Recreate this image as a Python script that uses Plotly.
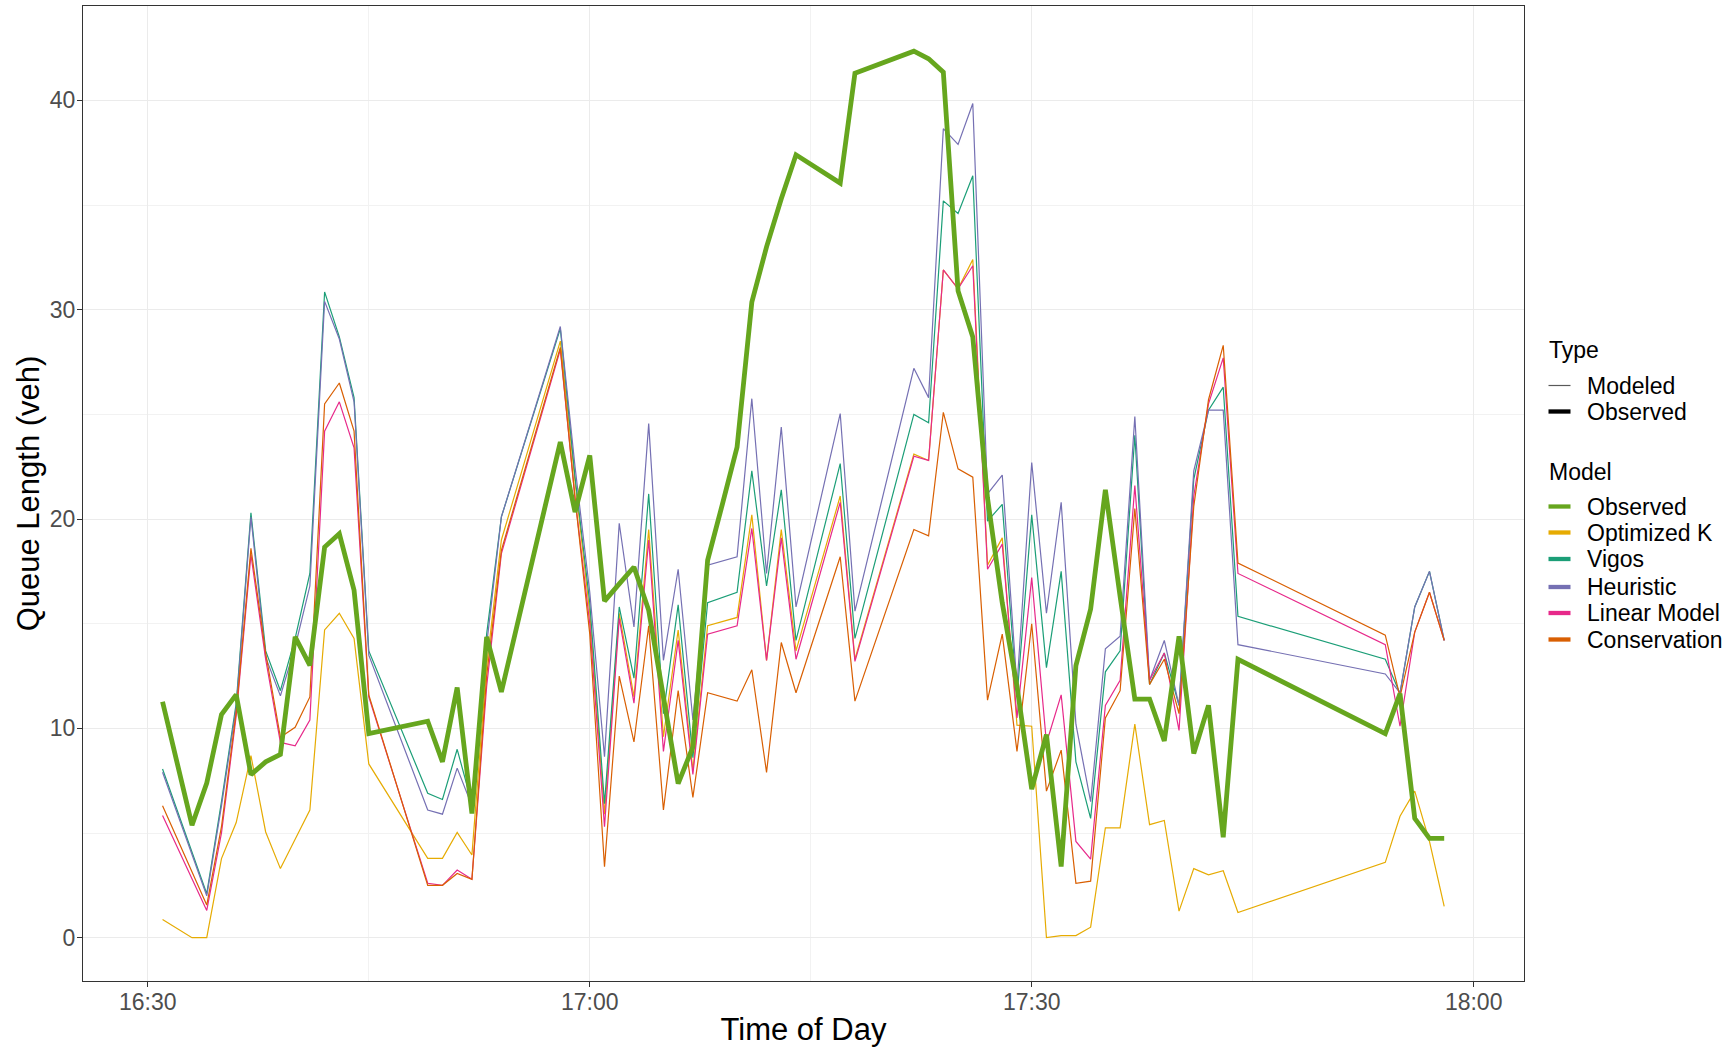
import pandas as pd
import plotly.graph_objects as go

# ---------------- data (minutes after 16:30) ----------------
model_minutes = [1, 3, 4, 5, 6, 7, 8, 9, 10, 11, 12, 13, 14, 15,
                 19, 20, 21, 22, 23, 24,
                 28, 29, 30, 31, 32, 33, 34, 35, 36, 37, 38,
                 40, 41, 42, 43, 44,
                 47, 48,
                 52, 53, 54, 55, 56, 57, 58, 59, 60, 61, 62, 63, 64, 65, 66, 67, 68, 69, 70, 71, 72, 73, 74,
                 84, 85, 86, 87, 88]

optimized_k = [0.87, 0.0, 0.0, 3.78, 5.5, 8.7, 5.05, 3.3, 4.7, 6.1, 14.7, 15.5, 14.3, 8.3,
               3.79, 3.79, 5.03, 3.95, 13.0, 19.0,
               28.5, 21.8, 15.5, 5.9, 15.5, 11.5, 19.5, 9.6, 14.7, 8.0, 14.9,
               15.3, 20.2, 13.25, 19.5, 13.7,
               21.1, 13.3,
               23.1, 22.8, 31.9, 31.0, 32.4, 17.8, 19.1, 10.15, 10.1, 0.0, 0.1, 0.1, 0.5, 5.25, 5.25, 10.2, 5.4, 5.6, 1.27, 3.3, 3.0, 3.2, 1.2,
               3.6, 5.8, 7.0, 4.6, 1.5]

vigos = [8.06, 4.1, 2.1, 6.5, 11.2, 20.3, 13.7, 11.8, 14.3, 17.4, 30.85, 28.7, 25.8, 13.7,
         6.9, 6.6, 9.0, 6.4, 14.5, 20.1,
         29.1, 22.0, 16.0, 6.4, 15.8, 12.4, 21.2, 10.7, 15.9, 8.6, 16.0,
         16.5, 22.3, 16.8, 21.4, 14.2,
         22.65, 14.3,
         25.0, 24.6, 35.2, 34.6, 36.4, 19.9, 20.7, 11.5, 20.2, 12.9, 17.5, 8.4, 5.7, 12.7, 13.7, 24.0, 12.1, 13.6, 11.1, 21.9, 25.2, 26.3, 15.35,
         13.3, 11.66, 15.8, 17.5, 14.2]

heuristic = [7.9, 4.0, 2.0, 6.3, 11.0, 20.1, 13.4, 11.55, 13.9, 16.8, 30.4, 28.6, 25.6, 13.5,
             6.1, 5.9, 8.1, 6.3, 14.0, 20.1,
             29.2, 22.5, 16.5, 8.65, 19.8, 14.85, 24.56, 13.25, 17.6, 10.4, 17.8,
             18.2, 25.75, 17.4, 24.4, 15.8,
             25.04, 15.6,
             27.2, 25.8, 38.65, 37.9, 39.85, 21.2, 22.1, 12.0, 22.7, 15.5, 20.8, 10.2, 6.5, 13.8, 14.4, 24.9, 12.3, 14.2, 11.1, 22.3, 25.2, 25.2, 14.0,
             12.6, 11.7, 15.8, 17.5, 14.2]

linear_model = [5.84, 2.8, 1.3, 5.0, 10.6, 18.3, 13.3, 9.33, 9.17, 10.4, 24.2, 25.6, 23.4, 11.5,
                2.6, 2.5, 3.23, 2.79, 12.0, 18.35,
                28.1, 21.0, 15.0, 5.3, 15.25, 11.2, 19.0, 8.9, 14.2, 7.8, 14.5,
                14.9, 19.55, 13.25, 19.1, 13.3,
                20.8, 13.2,
                23.0, 22.8, 31.9, 31.0, 32.1, 17.6, 18.8, 10.5, 17.2, 9.3, 11.6, 4.6, 3.75, 11.1, 12.3, 21.6, 12.3, 13.6, 9.9, 21.1, 25.5, 27.7, 17.4,
                14.0, 10.1, 14.6, 16.5, 14.2]

conservation = [6.3, 3.1, 1.56, 5.3, 10.8, 18.6, 13.6, 9.57, 10.05, 11.5, 25.5, 26.5, 24.2, 11.6,
                2.5, 2.5, 3.07, 2.79, 12.5, 18.5,
                28.2, 21.0, 14.5, 3.39, 12.5, 9.35, 14.9, 6.1, 11.8, 6.7, 11.7,
                11.3, 12.8, 7.9, 14.1, 11.7,
                18.2, 11.3,
                19.5, 19.2, 25.1, 22.4, 22.0, 11.35, 14.5, 8.9, 15.0, 7.0, 8.96, 2.6, 2.7, 10.5, 11.8, 20.5, 12.1, 13.3, 10.7, 20.6, 25.7, 28.3, 17.9,
                14.45, 11.5, 14.6, 16.5, 14.2]

observed_minutes = [1, 3, 4, 5, 6, 7, 8, 9, 10, 11, 12, 13, 14, 15,
                    19, 20, 21, 22, 23, 24,
                    28, 29, 30, 31, 32, 33, 34, 35, 36, 37, 38, 39,
                    40, 41, 42, 43, 44,
                    47, 48,
                    52, 53, 54, 55, 56, 57, 58, 59, 60, 61, 62, 63, 64, 65, 66, 67, 68, 69, 70, 71, 72, 73, 74,
                    84, 85, 86, 87, 88]

observed = [11.27, 5.37, 7.39, 10.66, 11.61, 7.79, 8.40, 8.75, 14.37, 13.01, 18.66, 19.3, 16.6, 9.75,
            10.34, 8.40, 11.95, 5.93, 14.37, 11.74,
            23.68, 20.33, 23.04, 16.08, 16.9, 17.71, 15.64, 11.5, 7.36, 9.11, 18.03, 20.7,
            23.44, 30.36, 33.0, 35.3, 37.4,
            36.05, 41.3,
            42.35, 41.99, 41.35, 30.9, 28.7, 21.0, 16.0, 12.0, 7.1, 9.7, 3.4, 13.0, 15.7, 21.4, 16.3, 11.4, 11.4, 9.4, 14.4, 8.8, 11.1, 4.8, 13.3,
            9.75, 11.66, 5.7, 4.74, 4.74]

model_names = ["Optimized K", "Vigos", "Heuristic", "Linear Model", "Conservation"]
model_colors = ["#E6AB02", "#1B9E77", "#7570B3", "#E7298A", "#D95F02"]
observed_color = "#66A61E"

type_labels = ["Modeled", "Observed"]
type_colors = ["#595959", "#000000"]
legend_model_labels = ["Observed"] + model_names
legend_model_colors = [observed_color] + model_colors

y_ticks = [0, 10, 20, 30, 40]
x_ticks = ["16:30", "17:00", "17:30", "18:00"]

# ---------------- helpers ----------------
W, H = 1730, 1051
ML, MR, MT, MB = 83, 206, 6, 70
PW, PH = W - ML - MR, H - MT - MB
base = pd.Timestamp("2020-01-01 16:30:00")


def to_time(mins):
    return [base + pd.Timedelta(minutes=m) for m in mins]


def px(x):
    return (x - ML) / PW


def py(y):
    return (H - MB - y) / PH


FONT = "Liberation Sans, Arial, sans-serif"
fig = go.Figure()

series = [optimized_k, vigos, heuristic, linear_model, conservation]
for name, vals, col in zip(model_names, series, model_colors):
    fig.add_trace(go.Scatter(x=to_time(model_minutes), y=vals, mode="lines", name=name,
                             line=dict(color=col, width=1.2), showlegend=False))

fig.add_trace(go.Scatter(x=to_time(observed_minutes), y=observed, mode="lines", name="Observed",
                         line=dict(color=observed_color, width=4.8), showlegend=False))

# ---------------- legend (drawn as text + key lines) ----------------
annotations = []
shapes = []
KEY_X0, KEY_X1, TEXT_X, TITLE_X = 1548.5, 1570.5, 1585, 1547
FS = 23


def add_title(text, yc):
    annotations.append(dict(text=text, x=px(TITLE_X), y=py(yc), xref="paper", yref="paper",
                            xanchor="left", yanchor="middle", showarrow=False,
                            font=dict(size=FS, color="black", family=FONT)))


def add_item(text, yc, color, width):
    shapes.append(dict(type="line", xref="paper", yref="paper",
                       x0=px(KEY_X0), x1=px(KEY_X1), y0=py(yc), y1=py(yc),
                       line=dict(color=color, width=width)))
    annotations.append(dict(text=text, x=px(TEXT_X), y=py(yc), xref="paper", yref="paper",
                            xanchor="left", yanchor="middle", showarrow=False,
                            font=dict(size=FS, color="black", family=FONT)))


add_title("Type", 350)
type_y = [385.5, 411.5]
type_w = [1.2, 4.3]
for lab, col, yc, wd in zip(type_labels, type_colors, type_y, type_w):
    add_item(lab, yc, col, wd)

add_title("Model", 471.5)
model_y = [506.5, 532.5, 559, 587, 613, 639.5]
for lab, col, yc in zip(legend_model_labels, legend_model_colors, model_y):
    add_item(lab, yc, col, 4.3)

x_tickvals = [pd.Timestamp("2020-01-01 " + t) for t in x_ticks]

fig.update_layout(
    width=W, height=H,
    margin=dict(l=ML, r=MR, t=MT, b=MB),
    paper_bgcolor="white", plot_bgcolor="white",
    font=dict(family=FONT, color="black"),
    showlegend=False,
    annotations=annotations,
    shapes=shapes,
    xaxis=dict(
        type="date",
        range=["2020-01-01 16:25:36", "2020-01-01 18:03:25"],
        tickvals=x_tickvals, ticktext=x_ticks,
        tickfont=dict(size=23, color="#4D4D4D"),
        ticks="outside", ticklen=5, tickcolor="#333333",
        ticklabelstandoff=-5,
        showgrid=True, gridcolor="#EBEBEB", gridwidth=1.2,
        minor=dict(dtick=15 * 60 * 1000, tick0="2020-01-01 16:30:00", showgrid=True,
                   gridcolor="#F2F2F2", gridwidth=0.8),
        showline=True, mirror=True, linecolor="#333333", linewidth=1.1,
        zeroline=False, automargin=False,
        title=dict(text="Time of Day", font=dict(size=31, color="black"), standoff=4),
    ),
    yaxis=dict(
        range=[-2.07, 44.51],
        tickvals=y_ticks,
        tickfont=dict(size=23, color="#4D4D4D"),
        ticks="outside", ticklen=5, tickcolor="#333333",
        ticklabelstandoff=-3,
        showgrid=True, gridcolor="#EBEBEB", gridwidth=1.2,
        minor=dict(dtick=5, tick0=0, showgrid=True, gridcolor="#F2F2F2", gridwidth=0.8),
        showline=True, mirror=True, linecolor="#333333", linewidth=1.1,
        zeroline=False, automargin=False,
        title=dict(text="Queue Length (veh)", font=dict(size=31, color="black"), standoff=0),
    ),
)

fig.write_html("out.html", config={"displayModeBar": False},
               post_script="document.body.style.margin='0px';")
